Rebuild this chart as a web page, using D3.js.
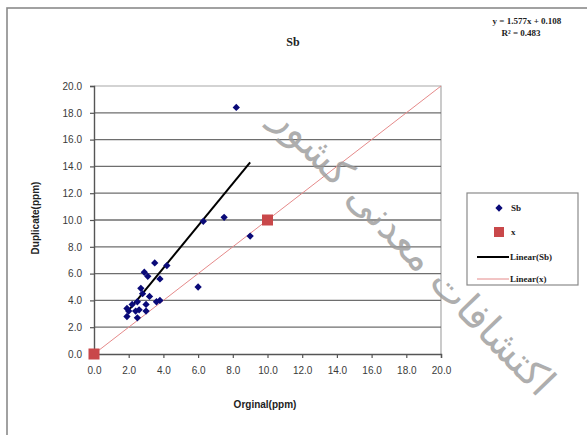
<!DOCTYPE html>
<html>
<head>
<meta charset="utf-8">
<script src="https://cdn.jsdelivr.net/npm/d3@7"></script>
<style>
  html, body { margin: 0; padding: 0; background: #fff; }
  svg { display: block; }
</style>
</head>
<body>
<svg id="chart" width="587" height="435"></svg>
<script>
// Sb duplicate check: original vs duplicate assay (ppm)
const sbOriginal  = [8.2, 7.5, 6.3, 9.0, 6.0, 4.2, 3.5, 2.9, 3.1, 3.8, 2.7, 2.8, 3.2, 3.8, 3.6, 2.5, 2.2, 3.0, 1.9, 2.6, 2.4, 2.0, 3.0, 1.9, 2.5];
const sbDuplicate = [18.4, 10.2, 9.9, 8.8, 5.0, 6.6, 6.8, 6.1, 5.8, 5.6, 4.9, 4.5, 4.3, 4.0, 3.9, 3.9, 3.7, 3.7, 3.4, 3.3, 3.2, 3.2, 3.2, 2.8, 2.7];
const refX = [0, 10];
const refY = [0, 10];
const xTicks = [0, 2, 4, 6, 8, 10, 12, 14, 16, 18, 20];
const yTicks = [0, 2, 4, 6, 8, 10, 12, 14, 16, 18, 20];
const slope = 1.577, intercept = 0.108, rSquared = 0.483;
const legendLabels = ["Sb", "x", "Linear(Sb)", "Linear(x)"];

const svg = d3.select("#chart");
const plot = { left: 94, right: 441, top: 86, bottom: 354 };

const x = d3.scaleLinear().domain([0, 20]).range([plot.left, plot.right]);
const y = d3.scaleLinear().domain([0, 20]).range([plot.bottom, plot.top]);

// outer chart frame
svg.append("rect")
  .attr("x", 7).attr("y", 8).attr("width", 640).attr("height", 500)
  .attr("fill", "#fff").attr("stroke", "#8a8a8a").attr("stroke-width", 1.6);

// plot border (top and right)
svg.append("path")
  .attr("d", `M${plot.left},${plot.top}H${plot.right}V${plot.bottom}`)
  .attr("fill", "none").attr("stroke", "#a8a8a8").attr("stroke-width", 1.2);

// horizontal gridlines
svg.append("g").selectAll("line")
  .data(yTicks.filter(v => v > 0 && v < 20))
  .join("line")
  .attr("x1", plot.left).attr("x2", plot.right)
  .attr("y1", d => y(d)).attr("y2", d => y(d))
  .attr("stroke", "#6e6e6e").attr("stroke-width", 1.3);

// axes
const fmt = d3.format(".1f");
const xAxis = svg.append("g")
  .attr("transform", `translate(0,${plot.bottom})`)
  .call(d3.axisBottom(x).tickValues(xTicks).tickFormat(fmt).tickSize(4).tickPadding(9));
const yAxis = svg.append("g")
  .attr("transform", `translate(${plot.left},0)`)
  .call(d3.axisLeft(y).tickValues(yTicks).tickFormat(fmt).tickSize(4).tickPadding(8));
[xAxis, yAxis].forEach(g => {
  g.select(".domain").attr("stroke", "#555").attr("stroke-width", 1.4);
  g.selectAll(".tick line").attr("stroke", "#555").attr("stroke-width", 1.2);
  g.selectAll(".tick text")
    .attr("font-family", "Liberation Sans, Arial, sans-serif")
    .attr("font-size", 10).attr("fill", "#3a3a3a");
});

// trendline for x (1:1 reference), extended across the axis range
svg.append("line")
  .attr("x1", x(0)).attr("y1", y(0)).attr("x2", x(20)).attr("y2", y(20))
  .attr("stroke", "#e58a8a").attr("stroke-width", 1);

// linear trendline for Sb over the data range
const [xmin, xmax] = d3.extent(sbOriginal);
svg.append("line")
  .attr("x1", x(xmin)).attr("y1", y(slope * xmin + intercept))
  .attr("x2", x(xmax)).attr("y2", y(slope * xmax + intercept))
  .attr("stroke", "#000").attr("stroke-width", 2);

// Sb points (diamonds)
const diamond = d3.symbol().type(d3.symbolDiamond2).size(34);
svg.append("g").selectAll("path")
  .data(sbOriginal.map((v, i) => [v, sbDuplicate[i]]))
  .join("path")
  .attr("d", diamond)
  .attr("transform", d => `translate(${x(d[0])},${y(d[1])})`)
  .attr("fill", "#0a0a78");

// reference points (squares)
svg.append("g").selectAll("rect")
  .data(refX.map((v, i) => [v, refY[i]]))
  .join("rect")
  .attr("x", d => x(d[0]) - 5.5).attr("y", d => y(d[1]) - 5.5)
  .attr("width", 11).attr("height", 11)
  .attr("fill", "#c9484a");

// title
svg.append("text")
  .attr("x", 293).attr("y", 46).attr("text-anchor", "middle")
  .attr("font-family", "Liberation Serif, Times New Roman, serif")
  .attr("font-weight", "bold").attr("font-size", 12).attr("fill", "#222")
  .text("Sb");

// trendline equation
const eq = svg.append("text")
  .attr("font-family", "Liberation Serif, Times New Roman, serif")
  .attr("font-weight", "bold").attr("font-size", 9).attr("fill", "#222")
  .attr("text-anchor", "middle");
eq.append("tspan").attr("x", 527).attr("y", 24)
  .text(`y = ${slope}x + ${intercept}`);
eq.append("tspan").attr("x", 521).attr("y", 36)
  .text(`R\u00b2 = ${rSquared}`);

// axis titles
svg.append("text")
  .attr("x", 265).attr("y", 408).attr("text-anchor", "middle")
  .attr("font-family", "Liberation Sans, Arial, sans-serif")
  .attr("font-weight", "bold").attr("font-size", 10).attr("fill", "#222")
  .text("Orginal(ppm)");
svg.append("text")
  .attr("transform", "translate(39,218) rotate(-90)")
  .attr("text-anchor", "middle")
  .attr("font-family", "Liberation Sans, Arial, sans-serif")
  .attr("font-weight", "bold").attr("font-size", 10).attr("fill", "#222")
  .text("Duplicate(ppm)");

// legend
const lg = svg.append("g");
lg.append("rect")
  .attr("x", 467).attr("y", 193).attr("width", 111).attr("height", 92)
  .attr("fill", "#fff").attr("stroke", "#8a8a8a").attr("stroke-width", 1.2);
const rows = [208, 232, 257, 279];
lg.append("path").attr("d", diamond)
  .attr("transform", `translate(499,${rows[0]})`).attr("fill", "#0a0a78");
lg.append("rect").attr("x", 494).attr("y", rows[1] - 5).attr("width", 10).attr("height", 10)
  .attr("fill", "#c9484a");
lg.append("line").attr("x1", 477).attr("x2", 509).attr("y1", rows[2]).attr("y2", rows[2])
  .attr("stroke", "#000").attr("stroke-width", 2);
lg.append("line").attr("x1", 477).attr("x2", 509).attr("y1", rows[3]).attr("y2", rows[3])
  .attr("stroke", "#e58a8a").attr("stroke-width", 1);
lg.selectAll("text.lab")
  .data(legendLabels)
  .join("text")
  .attr("class", "lab")
  .attr("x", (d, i) => i < 2 ? 511 : 510)
  .attr("y", (d, i) => rows[i] + 3)
  .attr("font-family", "Liberation Serif, Times New Roman, serif")
  .attr("font-weight", "bold").attr("font-size", 9).attr("fill", "#222")
  .text(d => d);

// publisher watermark
svg.append("text")
  .attr("transform", "translate(412,252) rotate(46)")
  .attr("text-anchor", "middle").attr("dominant-baseline", "middle")
  .attr("font-family", "DejaVu Sans, sans-serif")
  .attr("font-size", 40).attr("letter-spacing", 3).attr("fill", "#9a9a9a")
  .attr("opacity", 0.8)
  .text("اکتشافات معدنی کشور");
</script>
</body>
</html>
